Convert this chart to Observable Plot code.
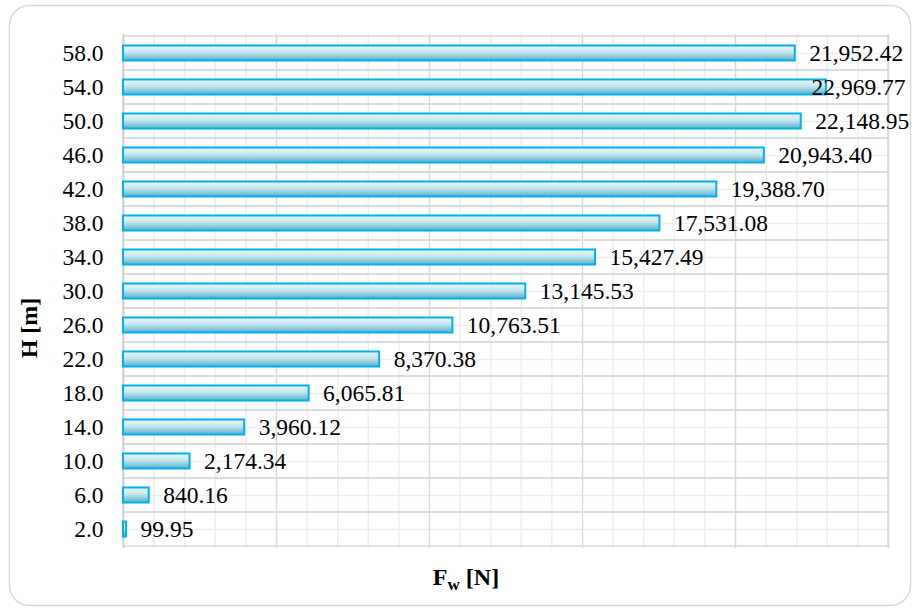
<!DOCTYPE html>
<html>
<head>
<meta charset="utf-8">
<script src="https://cdn.jsdelivr.net/npm/d3@7"></script>
<script src="https://cdn.jsdelivr.net/npm/@observablehq/plot@0.6"></script>
<style>
  html, body { margin: 0; padding: 0; background: #fff; }
  #chart { position: relative; width: 912px; height: 609px; }
</style>
</head>
<body>
<div id="chart"></div>
<script>
// Heights H [m] (categories)
const heights = [2, 6, 10, 14, 18, 22, 26, 30, 34, 38, 42, 46, 50, 54, 58];
// Wind force F_w [N]
const forces = [99.95, 840.16, 2174.34, 3960.12, 6065.81, 8370.38, 10763.51, 13145.53,
                15427.49, 17531.08, 19388.70, 20943.40, 22148.95, 22969.77, 21952.42];
// Axis gridline values
const majorTicks = [0, 5000, 10000, 15000, 20000, 25000];
const minorTicks = d3.range(1000, 25000, 1000).filter(v => v % 5000 !== 0);

const data = heights.map((h, i) => ({h, f: forces[i]}));
const fmt = d3.format(",.2f");
const xMax = 25000;

const svg = Plot.plot({
  width: 912,
  height: 609,
  marginLeft: 123,
  marginRight: 24,
  marginTop: 34,
  marginBottom: 61,
  style: {fontFamily: "'Liberation Serif', 'Times New Roman', serif", fontSize: "23.5px", color: "#000", background: "transparent"},
  x: {domain: [0, xMax], axis: null},
  y: {type: "band", domain: heights.slice().reverse(), padding: 0, axis: null},
  marks: [
    Plot.ruleX(minorTicks, {stroke: "#eeeeee", strokeWidth: 1.5}),
    Plot.ruleY(heights, {y: d => d, x1: 0, x2: xMax, stroke: "#eeeeee", strokeWidth: 1.5}),
    Plot.barX(heights, {y: d => d, x1: 0, x2: xMax, fill: "none", stroke: "#d9d9d9", strokeWidth: 1.5}),
    Plot.ruleX(majorTicks, {stroke: "#d9d9d9", strokeWidth: 1.5}),
    Plot.ruleX([0], {stroke: "#cfcfcf", strokeWidth: 1.5}),
    Plot.barX(data, {y: "h", x: "f", fill: "url(#barGrad)", stroke: "#00b0f0", strokeWidth: 2, insetTop: 9.5, insetBottom: 9.5}),
    Plot.text(data.filter(d => d.f < 22500), {y: "h", x: "f", text: d => fmt(d.f), textAnchor: "start", dx: 14, fill: "#000"}),
    Plot.text(data.filter(d => d.f >= 22500), {y: "h", frameAnchor: "right", text: d => fmt(d.f), textAnchor: "end", dx: 17, fill: "#000"}),
    Plot.axisY({tickSize: 0, tickPadding: 20, tickFormat: d => d.toFixed(1), label: null})
  ]
});

const s = d3.select(svg);
const defs = s.insert("defs", ":first-child");
const g = defs.append("linearGradient").attr("id", "barGrad").attr("x1", 0).attr("y1", 0).attr("x2", 0).attr("y2", 1);
g.append("stop").attr("offset", "0%").attr("stop-color", "#eef8fb");
g.append("stop").attr("offset", "45%").attr("stop-color", "#c4e6ef");
g.append("stop").attr("offset", "100%").attr("stop-color", "#5aafc6");

// Outer rounded chart border
s.insert("rect", ":first-child")
  .attr("x", 9.5).attr("y", 5.5).attr("width", 901).attr("height", 600).attr("rx", 20)
  .attr("fill", "#fff").attr("stroke", "#d9d9d9").attr("stroke-width", 1.5);

// Axis titles
const xt = s.append("text").attr("x", 466).attr("y", 585).attr("text-anchor", "middle")
  .attr("font-weight", "bold").attr("font-size", 24);
xt.append("tspan").text("F");
xt.append("tspan").attr("font-size", 17).attr("dy", 5).text("w");
xt.append("tspan").attr("dy", -5).text(" [N]");

s.append("text").attr("transform", "translate(37,328) rotate(-90)").attr("text-anchor", "middle")
  .attr("font-weight", "bold").attr("font-size", 24).text("H [m]");

document.getElementById("chart").appendChild(svg);
</script>
</body>
</html>
